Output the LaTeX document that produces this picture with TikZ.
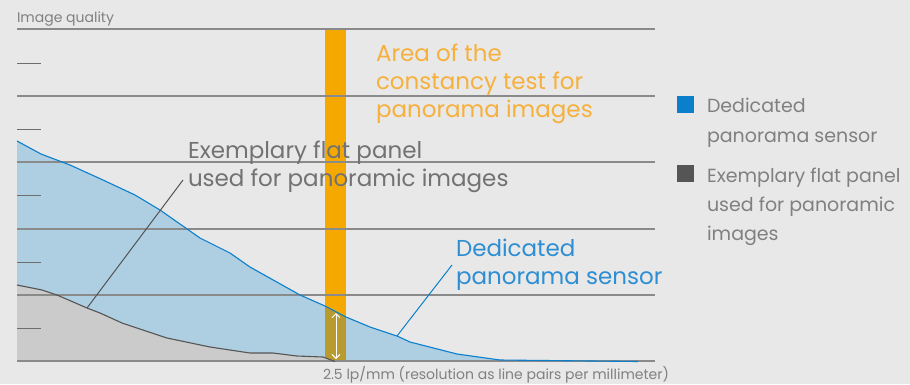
\documentclass[tikz,border=0pt]{standalone}
\usepackage{fontspec}
\setmainfont{Poppins}
\usetikzlibrary{arrows.meta}
\definecolor{bgc}{HTML}{E8E8E8}
\definecolor{gridc}{HTML}{8A8A8A}
\definecolor{tickc}{HTML}{6E6E6E}
\definecolor{sensorline}{HTML}{0B7FCC}
\definecolor{sensorfill}{HTML}{AECFE2}
\definecolor{panelfill}{HTML}{CBCBCB}
\definecolor{panelline}{HTML}{555555}
\definecolor{barc}{HTML}{F5A800}
\definecolor{barmix}{HTML}{B99A2E}
\definecolor{orangetxt}{HTML}{F6B03C}
\definecolor{bluetxt}{HTML}{2D8ED3}
\definecolor{graytxt}{HTML}{727272}
\definecolor{lighttxt}{HTML}{808080}
\tikzset{
  lbl/.style={anchor=base west, inner sep=0pt, outer sep=0pt},
  big/.style={lbl, font=\fontsize{23}{28}\selectfont},
  legend/.style={lbl, font=\fontsize{19}{29}\selectfont, text=lighttxt},
  small/.style={lbl, font=\fontsize{14}{16}\selectfont, text=lighttxt},
  gridline/.style={draw=gridc, line width=1.4pt},
  tickline/.style={draw=tickc, line width=0.9pt},
  leader/.style={line width=1pt},
}
\begin{document}
\begin{tikzpicture}[x=1pt, y=-1pt]
  % canvas
  \fill[bgc] (0,0) rectangle (910,384);
  \useasboundingbox (0,0) rectangle (910,384);

  % curves as reusable paths
  \def\sensorpath{(17,141) -- (41,154) -- (70,165) -- (103,180) -- (135,195) -- (160,210) -- (200,238) -- (230,253) -- (250,267) -- (300,295) -- (325,306) -- (346,317) -- (370,327) -- (397,336) -- (410,342) -- (457,354) -- (500,360) -- (638,361.5)}
  \def\panelpath{(17,285) -- (42,290) -- (57,295) -- (87,308) -- (100,313) -- (122,323) -- (143,330) -- (167,338) -- (210,347) -- (250,353) -- (273,353) -- (297,356) -- (323,357) -- (335,361.5)}

  % test area bar
  \fill[barc] (325,29) rectangle (346,361);

  % sensor area
  \fill[sensorfill] \sensorpath -- (638,361) -- (17,361) -- cycle;
  \begin{scope}
    \clip \sensorpath -- (638,361) -- (17,361) -- cycle;
    \fill[barmix] (325,29) rectangle (346,361);
  \end{scope}

  % flat panel area
  \fill[panelfill] \panelpath -- (17,361) -- cycle;

  % grid
  \foreach \yy in {29,96,162,229,295} \draw[gridline] (17,\yy) -- (655,\yy);
  \foreach \yy in {63,129,195,262,328} \draw[tickline] (17,\yy) -- (41,\yy);
  \draw[draw=gridc, line width=2pt] (17,361) -- (655,361);

  % curve outlines
  \draw[panelline, line width=1.1pt, line join=round] \panelpath;
  \draw[sensorline, line width=1.1pt, line join=round] \sensorpath;

  % height marker in the bar
  \coordinate (mtop) at (336,313);
  \coordinate (mbot) at (336,359);
  \draw[white, line width=0.9pt, {Straight Barb[length=4pt,width=8pt]}-{Straight Barb[length=4pt,width=8pt]}] (mtop) -- (mbot);

  % axis labels
  \node[small] (ylab) at (17,22) {Image quality};
  \node[small] (xlab) at (323,379) {2.5 lp/mm (resolution as line pairs per millimeter)};

  % test area label
  \node[big, text=orangetxt] (area1) at (376,61) {Area of the};
  \node[big, text=orangetxt] (area2) at (376,89) {constancy test for};
  \node[big, text=orangetxt] (area3) at (376,117) {panorama images};

  % flat panel label and leader
  \node[big, text=graytxt] (flat1) at (188,158) {Exemplary flat panel};
  \node[big, text=graytxt] (flat2) at (188,186) {used for panoramic images};
  \coordinate (flatend) at (183,180);
  \coordinate (flatpt) at (87,308);
  \draw[panelline, leader] (flatend) -- (flatpt);

  % sensor label and leader
  \node[big, text=bluetxt] (sens1) at (456,256) {Dedicated};
  \node[big, text=bluetxt] (sens2) at (456,284) {panorama sensor};
  \coordinate (sensend) at (452,265);
  \coordinate (senspt) at (397,336);
  \draw[sensorline, leader] (sensend) -- (senspt);

  % legend
  \fill[sensorline] (677,96) rectangle (694,113);
  \node[legend] (leg1) at (707,112) {Dedicated};
  \node[legend] (leg2) at (707,142) {panorama sensor};
  \fill[panelline] (677,165) rectangle (694,182);
  \node[legend] (leg3) at (707,182) {Exemplary flat panel};
  \node[legend] (leg4) at (707,211) {used for panoramic};
  \node[legend] (leg5) at (707,240) {images};
\end{tikzpicture}
\end{document}
